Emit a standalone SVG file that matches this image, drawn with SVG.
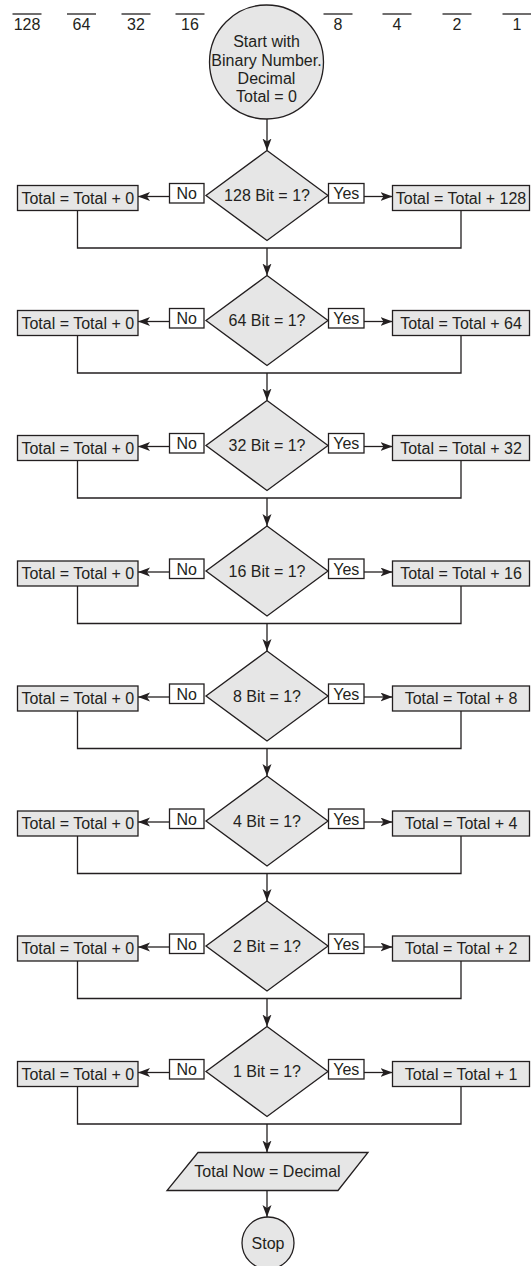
<svg xmlns="http://www.w3.org/2000/svg" width="531" height="1266" viewBox="0 0 531 1266">
<style>
text{font-family:"Liberation Sans",Arial,sans-serif;font-size:16px;fill:#231f20;text-anchor:middle}
.sh{fill:#e6e6e6;stroke:#231f20;stroke-width:1.3}
.lb{fill:#fff;stroke:#231f20;stroke-width:1.3}
.ln{fill:none;stroke:#231f20;stroke-width:1.3}
.ar{fill:none;stroke:#231f20;stroke-width:1.3;marker-end:url(#ah)}
.ov{stroke:#231f20;stroke-width:1.3}
</style>
<defs>
<marker id="ah" markerUnits="userSpaceOnUse" markerWidth="14" markerHeight="10" refX="12" refY="4.5" orient="auto">
<path d="M0,0 L12,4.5 L0,9 L3,4.5 z" fill="#231f20"/>
</marker>
</defs>
<rect width="531" height="1266" fill="#fff"/>
<g id="bits">
<line class="ov" x1="12.5" y1="14" x2="41.5" y2="14"/><text x="27" y="29.5">128</text>
<line class="ov" x1="67" y1="14" x2="96" y2="14"/><text x="81.5" y="29.5">64</text>
<line class="ov" x1="121.5" y1="14" x2="150.5" y2="14"/><text x="136" y="29.5">32</text>
<line class="ov" x1="175.5" y1="14" x2="204.5" y2="14"/><text x="190" y="29.5">16</text>
<line class="ov" x1="323.5" y1="14" x2="352.5" y2="14"/><text x="338" y="29.5">8</text>
<line class="ov" x1="382.5" y1="14" x2="411.5" y2="14"/><text x="397" y="29.5">4</text>
<line class="ov" x1="442.5" y1="14" x2="471.5" y2="14"/><text x="457" y="29.5">2</text>
<line class="ov" x1="502.5" y1="14" x2="531.5" y2="14"/><text x="517" y="29.5">1</text>
</g>
<g id="start">
<circle class="sh" cx="266.5" cy="62" r="57"/>
<text x="266.5" y="47">Start with</text>
<text x="266.5" y="65.5">Binary Number.</text>
<text x="266.5" y="84">Decimal</text>
<text x="266.5" y="102">Total = 0</text>
</g>
<g id="connectors">
<line class="ar" x1="267" y1="119" x2="267" y2="150.5"/>
<line class="ar" x1="169.5" y1="196.5" x2="138" y2="196.5"/><line class="ar" x1="364" y1="196.5" x2="392.5" y2="196.5"/>
<polyline class="ln" points="77.5,210.5 77.5,248 461,248 461,210.5"/><line class="ar" x1="267" y1="248" x2="267" y2="275.5"/>
<line class="ar" x1="169.5" y1="321.5" x2="138" y2="321.5"/><line class="ar" x1="364" y1="321.5" x2="392.5" y2="321.5"/>
<polyline class="ln" points="77.5,335.5 77.5,373 461,373 461,335.5"/><line class="ar" x1="267" y1="373" x2="267" y2="400.5"/>
<line class="ar" x1="169.5" y1="446.5" x2="138" y2="446.5"/><line class="ar" x1="364" y1="446.5" x2="392.5" y2="446.5"/>
<polyline class="ln" points="77.5,460.5 77.5,498 461,498 461,460.5"/><line class="ar" x1="267" y1="498" x2="267" y2="526"/>
<line class="ar" x1="169.5" y1="572" x2="138" y2="572"/><line class="ar" x1="364" y1="572" x2="392.5" y2="572"/>
<polyline class="ln" points="77.5,586 77.5,623.5 461,623.5 461,586"/><line class="ar" x1="267" y1="623.5" x2="267" y2="651"/>
<line class="ar" x1="169.5" y1="697" x2="138" y2="697"/><line class="ar" x1="364" y1="697" x2="392.5" y2="697"/>
<polyline class="ln" points="77.5,711 77.5,748.5 461,748.5 461,711"/><line class="ar" x1="267" y1="748.5" x2="267" y2="776"/>
<line class="ar" x1="169.5" y1="822" x2="138" y2="822"/><line class="ar" x1="364" y1="822" x2="392.5" y2="822"/>
<polyline class="ln" points="77.5,836 77.5,873.5 461,873.5 461,836"/><line class="ar" x1="267" y1="873.5" x2="267" y2="901"/>
<line class="ar" x1="169.5" y1="947" x2="138" y2="947"/><line class="ar" x1="364" y1="947" x2="392.5" y2="947"/>
<polyline class="ln" points="77.5,961 77.5,998.5 461,998.5 461,961"/><line class="ar" x1="267" y1="998.5" x2="267" y2="1026.5"/>
<line class="ar" x1="169.5" y1="1072.5" x2="138" y2="1072.5"/><line class="ar" x1="364" y1="1072.5" x2="392.5" y2="1072.5"/>
<polyline class="ln" points="77.5,1086.5 77.5,1124 461,1124 461,1086.5"/><line class="ar" x1="267" y1="1124" x2="267" y2="1152.5"/>
<line class="ar" x1="267" y1="1190.5" x2="267" y2="1217"/>
</g>
<g id="row128">
<polygon class="sh" points="267,150.5 328,195.5 267,240.5 206,195.5"/><text x="267" y="201">128 Bit = 1?</text>
<rect class="lb" x="169.5" y="183.5" width="34.5" height="19.5"/><text x="186.75" y="199">No</text>
<rect class="lb" x="328.5" y="183.5" width="35.5" height="19.5"/><text x="346.25" y="199">Yes</text>
<rect class="sh" x="17.5" y="185.5" width="120.5" height="25"/><text x="77.75" y="203.5">Total = Total + 0</text>
<rect class="sh" x="392.5" y="185.5" width="137" height="25"/><text x="461" y="203.5">Total = Total + 128</text>
</g>
<g id="row64">
<polygon class="sh" points="267,275.5 328,320.5 267,365.5 206,320.5"/><text x="267" y="326">64 Bit = 1?</text>
<rect class="lb" x="169.5" y="308.5" width="34.5" height="19.5"/><text x="186.75" y="324">No</text>
<rect class="lb" x="328.5" y="308.5" width="35.5" height="19.5"/><text x="346.25" y="324">Yes</text>
<rect class="sh" x="17.5" y="310.5" width="120.5" height="25"/><text x="77.75" y="328.5">Total = Total + 0</text>
<rect class="sh" x="392.5" y="310.5" width="137" height="25"/><text x="461" y="328.5">Total = Total + 64</text>
</g>
<g id="row32">
<polygon class="sh" points="267,400.5 328,445.5 267,490.5 206,445.5"/><text x="267" y="451">32 Bit = 1?</text>
<rect class="lb" x="169.5" y="433.5" width="34.5" height="19.5"/><text x="186.75" y="449">No</text>
<rect class="lb" x="328.5" y="433.5" width="35.5" height="19.5"/><text x="346.25" y="449">Yes</text>
<rect class="sh" x="17.5" y="435.5" width="120.5" height="25"/><text x="77.75" y="453.5">Total = Total + 0</text>
<rect class="sh" x="392.5" y="435.5" width="137" height="25"/><text x="461" y="453.5">Total = Total + 32</text>
</g>
<g id="row16">
<polygon class="sh" points="267,526 328,571 267,616 206,571"/><text x="267" y="576.5">16 Bit = 1?</text>
<rect class="lb" x="169.5" y="559" width="34.5" height="19.5"/><text x="186.75" y="574.5">No</text>
<rect class="lb" x="328.5" y="559" width="35.5" height="19.5"/><text x="346.25" y="574.5">Yes</text>
<rect class="sh" x="17.5" y="561" width="120.5" height="25"/><text x="77.75" y="579">Total = Total + 0</text>
<rect class="sh" x="392.5" y="561" width="137" height="25"/><text x="461" y="579">Total = Total + 16</text>
</g>
<g id="row8">
<polygon class="sh" points="267,651 328,696 267,741 206,696"/><text x="267" y="701.5">8 Bit = 1?</text>
<rect class="lb" x="169.5" y="684" width="34.5" height="19.5"/><text x="186.75" y="699.5">No</text>
<rect class="lb" x="328.5" y="684" width="35.5" height="19.5"/><text x="346.25" y="699.5">Yes</text>
<rect class="sh" x="17.5" y="686" width="120.5" height="25"/><text x="77.75" y="704">Total = Total + 0</text>
<rect class="sh" x="392.5" y="686" width="137" height="25"/><text x="461" y="704">Total = Total + 8</text>
</g>
<g id="row4">
<polygon class="sh" points="267,776 328,821 267,866 206,821"/><text x="267" y="826.5">4 Bit = 1?</text>
<rect class="lb" x="169.5" y="809" width="34.5" height="19.5"/><text x="186.75" y="824.5">No</text>
<rect class="lb" x="328.5" y="809" width="35.5" height="19.5"/><text x="346.25" y="824.5">Yes</text>
<rect class="sh" x="17.5" y="811" width="120.5" height="25"/><text x="77.75" y="829">Total = Total + 0</text>
<rect class="sh" x="392.5" y="811" width="137" height="25"/><text x="461" y="829">Total = Total + 4</text>
</g>
<g id="row2">
<polygon class="sh" points="267,901 328,946 267,991 206,946"/><text x="267" y="951.5">2 Bit = 1?</text>
<rect class="lb" x="169.5" y="934" width="34.5" height="19.5"/><text x="186.75" y="949.5">No</text>
<rect class="lb" x="328.5" y="934" width="35.5" height="19.5"/><text x="346.25" y="949.5">Yes</text>
<rect class="sh" x="17.5" y="936" width="120.5" height="25"/><text x="77.75" y="954">Total = Total + 0</text>
<rect class="sh" x="392.5" y="936" width="137" height="25"/><text x="461" y="954">Total = Total + 2</text>
</g>
<g id="row1">
<polygon class="sh" points="267,1026.5 328,1071.5 267,1116.5 206,1071.5"/><text x="267" y="1077">1 Bit = 1?</text>
<rect class="lb" x="169.5" y="1059.5" width="34.5" height="19.5"/><text x="186.75" y="1075">No</text>
<rect class="lb" x="328.5" y="1059.5" width="35.5" height="19.5"/><text x="346.25" y="1075">Yes</text>
<rect class="sh" x="17.5" y="1061.5" width="120.5" height="25"/><text x="77.75" y="1079.5">Total = Total + 0</text>
<rect class="sh" x="392.5" y="1061.5" width="137" height="25"/><text x="461" y="1079.5">Total = Total + 1</text>
</g>
<g id="output">
<polygon class="sh" points="198,1152.5 368,1152.5 338,1190.5 167,1190.5"/>
<text x="267.5" y="1177">Total Now = Decimal</text>
</g>
<g id="stop">
<circle class="sh" cx="268" cy="1243" r="26"/>
<text x="268" y="1248.5">Stop</text>
</g>
</svg>
